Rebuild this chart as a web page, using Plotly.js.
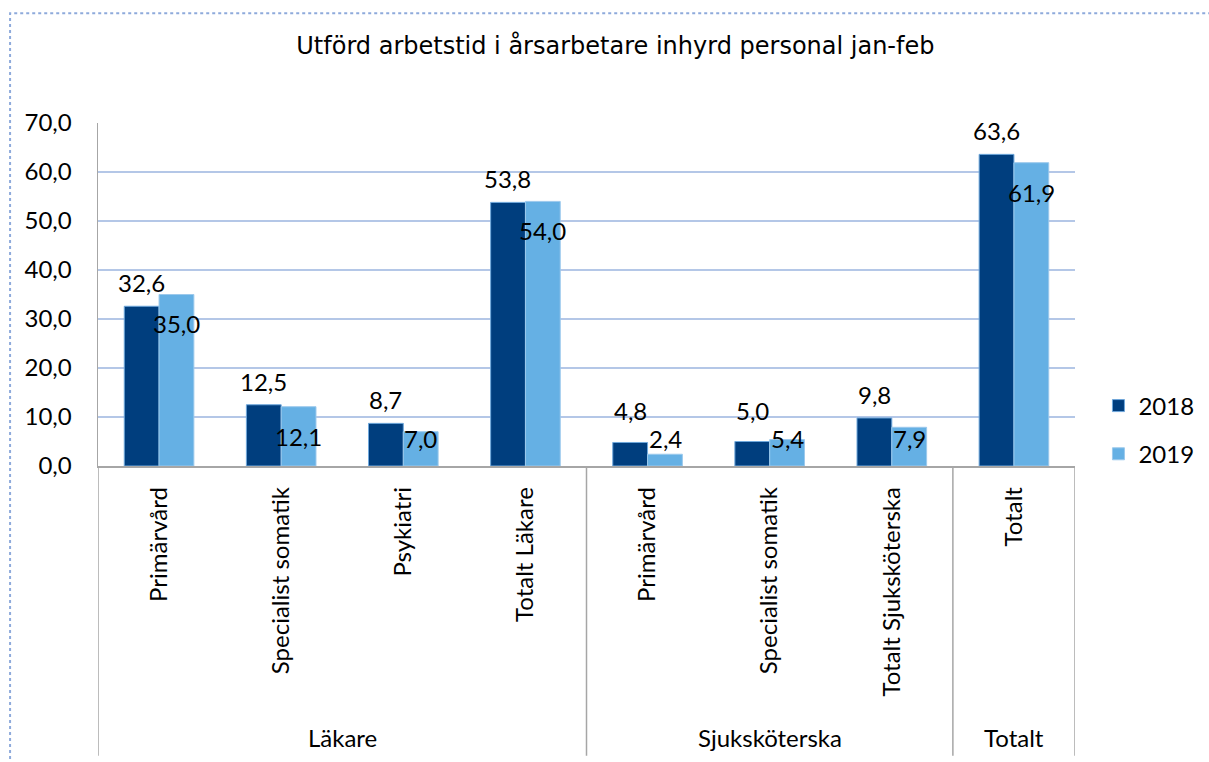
<!DOCTYPE html>
<html>
<head>
<meta charset="utf-8">
<script src="https://cdn.plot.ly/plotly-3.0.1.min.js"></script>
<style>html,body{margin:0;padding:0;background:#fff;}#chart{width:1209px;height:762px;}</style>
</head>
<body>
<div id="chart"></div>
<script>
var categories = ["Primärvård", "Specialist somatik", "Psykiatri", "Totalt Läkare", "Primärvård", "Specialist somatik", "Totalt Sjuksköterska", "Totalt"];
var groups = ["Läkare", "Läkare", "Läkare", "Läkare", "Sjuksköterska", "Sjuksköterska", "Sjuksköterska", "Totalt"];
var values2018 = [32.6, 12.5, 8.7, 53.8, 4.8, 5.0, 9.8, 63.6];
var values2019 = [35.0, 12.1, 7.0, 54.0, 2.4, 5.4, 7.9, 61.9];
var seriesNames = ["2018", "2019"];

var idx = categories.map(function (_, i) { return i; });
function fmt(v) { return v.toFixed(1).replace('.', ','); }

var labelFont = {family: "Lato, 'Open Sans', sans-serif", size: 24, color: '#000'};

var traces = [
  {type: 'bar', name: seriesNames[0], x: idx, y: values2018, legendgroup: 'a',
   marker: {color: '#003e7e', line: {color: '#6fa8dc', width: 1}}, hoverinfo: 'y'},
  {type: 'bar', name: seriesNames[1], x: idx, y: values2019, legendgroup: 'b',
   marker: {color: '#65b0e4', line: {color: '#9cc9ec', width: 1}}, hoverinfo: 'y'}
];

var annotations = [];
idx.forEach(function (i) {
  annotations.push({x: i, xshift: -17.5, y: Math.max(values2018[i] + 4.8, 11.4), xref: 'x', yref: 'y',
    text: fmt(values2018[i]), showarrow: false, font: labelFont, yanchor: 'middle'});
  annotations.push({x: i, xshift: 17.5, y: Math.max(values2019[i] - 6.0, 5.6), xref: 'x', yref: 'y',
    text: fmt(values2019[i]), showarrow: false, font: labelFont, yanchor: 'middle'});
});

// group labels and dividers
var shapes = [];
var grpStart = 0;
for (var i = 1; i <= groups.length; i++) {
  if (i === groups.length || groups[i] !== groups[grpStart]) {
    annotations.push({x: (grpStart + i - 1) / 2, y: -0.793, xref: 'x', yref: 'paper',
      text: groups[grpStart], showarrow: false, font: labelFont, yanchor: 'middle'});
    shapes.push({type: 'line', xref: 'x', yref: 'paper', x0: i - 0.5, x1: i - 0.5, y0: 0, y1: -0.845,
      line: {color: '#a6a6a6', width: 1.5}});
    grpStart = i;
  }
}
shapes.push({type: 'line', xref: 'x', yref: 'paper', x0: -0.5, x1: -0.5, y0: 0, y1: -0.845,
  line: {color: '#a6a6a6', width: 1.5}});
// dotted frame
shapes.push({type: 'rect', xref: 'paper', yref: 'paper', x0: -0.09, x1: 1.2, y0: -0.868, y1: 1.32,
  line: {color: '#8eaadb', width: 2, dash: 'dot'}, layer: 'below'});

var layout = {
  width: 1209, height: 762,
  margin: {l: 98, r: 134, t: 123, b: 296, autoexpand: false},
  paper_bgcolor: '#fff', plot_bgcolor: '#fff',
  separators: ', ',
  title: {text: 'Utförd arbetstid i årsarbetare inhyrd personal jan-feb',
    font: {family: "'DejaVu Sans', Verdana, sans-serif", size: 24, color: '#000'},
    x: 0.509, xref: 'container', xanchor: 'center', y: 0.94, yanchor: 'middle'},
  barmode: 'group', bargap: 0.43, bargroupgap: 0,
  xaxis: {range: [-0.5, categories.length - 0.5], tickmode: 'array', tickvals: idx, ticktext: categories,
    tickangle: -90, tickfont: labelFont, showgrid: false, zeroline: false, automargin: false,
    showline: true, linecolor: '#a6a6a6', linewidth: 1.5, ticks: '', ticklabelstandoff: 10},
  yaxis: {range: [0, 70], dtick: 10, tickformat: '.1f', tickfont: labelFont, automargin: false,
    showgrid: true, gridcolor: '#b4c7e7', gridwidth: 1.5, zeroline: false,
    showline: true, linecolor: '#a6a6a6', linewidth: 1.5, ticks: '', ticklabelstandoff: 20},
  legend: {x: 1.024, xanchor: 'left', y: 0.105, yanchor: 'middle', font: labelFont,
    traceorder: 'grouped', tracegroupgap: 14, bgcolor: 'rgba(0,0,0,0)'},
  annotations: annotations,
  shapes: shapes,
  showlegend: true
};

Plotly.newPlot('chart', traces, layout, {displayModeBar: false, staticPlot: true});
</script>
</body>
</html>
